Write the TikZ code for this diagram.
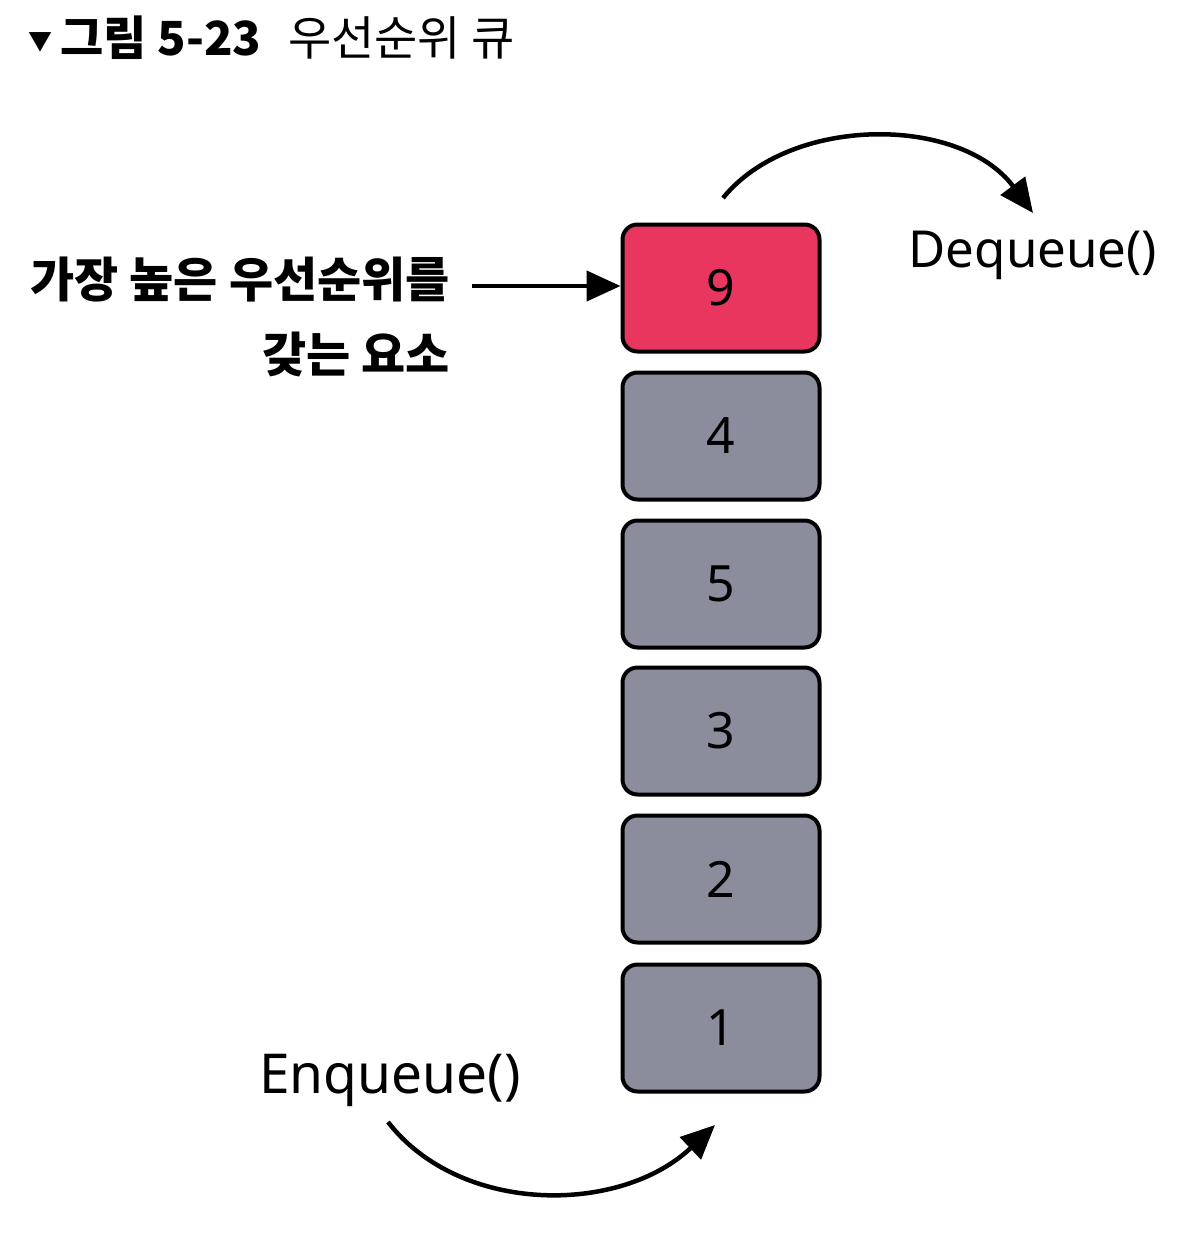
\documentclass[tikz,border=0pt]{standalone}
\usepackage{fontspec}
\newfontfamily\kr{Noto Sans CJK KR}
\setmainfont{Noto Sans}
\usetikzlibrary{arrows.meta}
\definecolor{pinkbox}{HTML}{E8365F}
\definecolor{graybox}{HTML}{8B8C9C}
\tikzset{
  qbox/.style={draw=black, line width=4pt, rounded corners=15pt, minimum width=197pt, minimum height=127pt, fill=graybox, font=\fontsize{50}{56}\selectfont\bfseries, inner sep=0pt},
  arr/.style={line width=4.5pt, -{Triangle[length=34pt,width=30pt]}},
  lbl/.style={font=\kr\fontsize{48}{56}\selectfont\bfseries, inner sep=0pt},
  fn/.style={font=\fontsize{51}{56}\selectfont, inner sep=0pt}
}
\begin{document}
\begin{tikzpicture}[x=1pt,y=-1pt]
\useasboundingbox[fill=white] (0,0) rectangle (1186,1236);
% title
\node[anchor=west, inner sep=0pt, font=\kr\fontsize{24}{30}\selectfont] (tri) at (28,42) {▼};
\node[anchor=west, inner sep=0pt, font=\kr\fontsize{47}{52}\selectfont\bfseries] (tnum) at (60,38) {그림 5-23};
\node[anchor=west, inner sep=0pt, font=\kr\fontsize{47}{52}\selectfont] (tname) at (288,38) {우선순위 큐};
% boxes
\node[qbox, fill=pinkbox] (b9) at (721,288) {9};
\node[qbox] (b4) at (721,436) {4};
\node[qbox] (b5) at (721,584) {5};
\node[qbox] (b3) at (721,731) {3};
\node[qbox] (b2) at (721,879) {2};
\node[qbox] (b1) at (721,1028) {1};
% label
\node[lbl, anchor=east] (l1) at (450,280) {가장 높은 우선순위를};
\node[lbl, anchor=east] (l2) at (450,354) {갖는 요소};
\coordinate (la) at (472,286);
\draw[arr] (la) -- (la -| b9.west);
% dequeue
\node[fn] (deq) at (1033,255) {Dequeue()};
\coordinate (ds) at (723,198);
\coordinate (de) at (1033,213);
\draw[arr] (ds) .. controls (790,115) and (960,115) .. (de);
% enqueue
\node[fn, font=\fontsize{55}{60}\selectfont] (enq) at (390,1080) {Enqueue()};
\coordinate (es) at (388,1122);
\coordinate (ee) at (715,1125);
\draw[arr] (es) .. controls (460,1215) and (620,1215) .. (ee);
\end{tikzpicture}
\end{document}
